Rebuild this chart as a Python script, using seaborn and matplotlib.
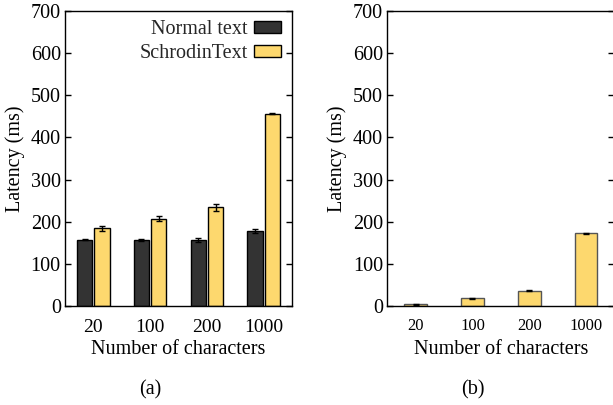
import numpy as np
import pandas as pd
import matplotlib
matplotlib.use("Agg")
import matplotlib.pyplot as plt
import seaborn as sns

# ---- data ----
categories = ["20", "100", "200", "1000"]
normal_mean = [157, 157, 156, 178]
normal_err = [1, 2, 5, 5]
schrodin_mean = [185, 207, 234, 456]
schrodin_err = [6, 6, 8, 1]
b_mean = [4, 18, 36, 173]
b_err = [0.5, 1.5, 1, 1]
series_names = ["Normal text", "SchrodinText"]
yticks = [0, 100, 200, 300, 400, 500, 600, 700]

DARK = "#333333"
YELLOW = "#FDD86E"

sns.set_theme(style="white")
plt.rcParams["font.family"] = ["Liberation Serif", "DejaVu Serif"]
plt.rcParams["mathtext.fontset"] = "stix"

fig = plt.figure(figsize=(6.13, 4.05), dpi=100)
ax1 = fig.add_axes([65 / 613, 1 - 306 / 405, 227 / 613, 295 / 405])
ax2 = fig.add_axes([387.3 / 613, 1 - 306 / 405, 227 / 613, 295 / 405])

# ---- panel (a) ----
df_a = pd.DataFrame({
    "chars": categories * 2,
    "latency": normal_mean + schrodin_mean,
    "err": normal_err + schrodin_err,
    "series": [series_names[0]] * 4 + [series_names[1]] * 4,
})
sns.barplot(data=df_a, x="chars", y="latency", hue="series", order=categories,
            hue_order=series_names, palette=[DARK, YELLOW], width=0.61, gap=0.12,
            errorbar=None, edgecolor="black", linewidth=1.0, saturation=1,
            ax=ax1, legend=True)
# error bars from the bars' own positions
bars = [p for p in ax1.patches if p.get_height() > 0]
bars = sorted(bars, key=lambda p: p.get_x())
errs_sorted = []
for i in range(len(categories)):
    errs_sorted += [normal_err[i], schrodin_err[i]]
xs = [p.get_x() + p.get_width() / 2 for p in bars]
hs = [p.get_height() for p in bars]
ax1.errorbar(xs, hs, yerr=errs_sorted, fmt="none", ecolor="black",
             elinewidth=1.0, capsize=2.5, capthick=1.0, zorder=5)

leg = ax1.legend(frameon=False, markerfirst=False, loc="upper right",
                 bbox_to_anchor=(1.0 + 2 / 227, 1.0 + 4 / 295), fontsize=14.5,
                 handlelength=1.35, handleheight=0.55, handletextpad=0.3,
                 labelspacing=0.25, borderaxespad=0.25)

# ---- panel (b) ----
df_b = pd.DataFrame({"chars": categories, "latency": b_mean})
sns.barplot(data=df_b, x="chars", y="latency", order=categories, color=YELLOW,
            width=0.4, errorbar=None, edgecolor="#555555", linewidth=1.0,
            saturation=1, ax=ax2)
bbars = sorted([p for p in ax2.patches], key=lambda p: p.get_x())
ax2.errorbar([p.get_x() + p.get_width() / 2 for p in bbars],
             [p.get_height() for p in bbars], yerr=b_err, fmt="none",
             ecolor="black", elinewidth=1.0, capsize=2.5, capthick=1.0, zorder=5)

for ax, xfs, cap, cx in [(ax1, 14, "(a)", 150.5), (ax2, 12, "(b)", 472.5)]:
    ax.set_xlim(-0.5, 3.5)
    ax.set_ylim(0, 700)
    ax.set_yticks(yticks)
    ax.set_yticklabels([str(t) for t in yticks], fontsize=14.5)
    ax.tick_params(axis="y", direction="in", length=4, width=1, left=True,
                   right=True, pad=3, colors="black")
    ax.tick_params(axis="x", length=0, pad=9, labelsize=xfs, colors="black")
    for s in ax.spines.values():
        s.set_visible(True)
        s.set_color("black")
        s.set_linewidth(1.0)
    ax.set_xlabel("Number of characters", fontsize=14.5, color="black")
    ax.set_ylabel("Latency (ms)", fontsize=14.5, color="black")
    ax.yaxis.set_label_coords(-0.177, 0.5)
    ax.xaxis.set_label_coords(0.5, -0.115)
    fig.text(cx / 613, 1 - 390 / 405, cap, ha="center", va="center",
             fontsize=14.5, color="black")

fig.savefig("out.png", dpi=100)
